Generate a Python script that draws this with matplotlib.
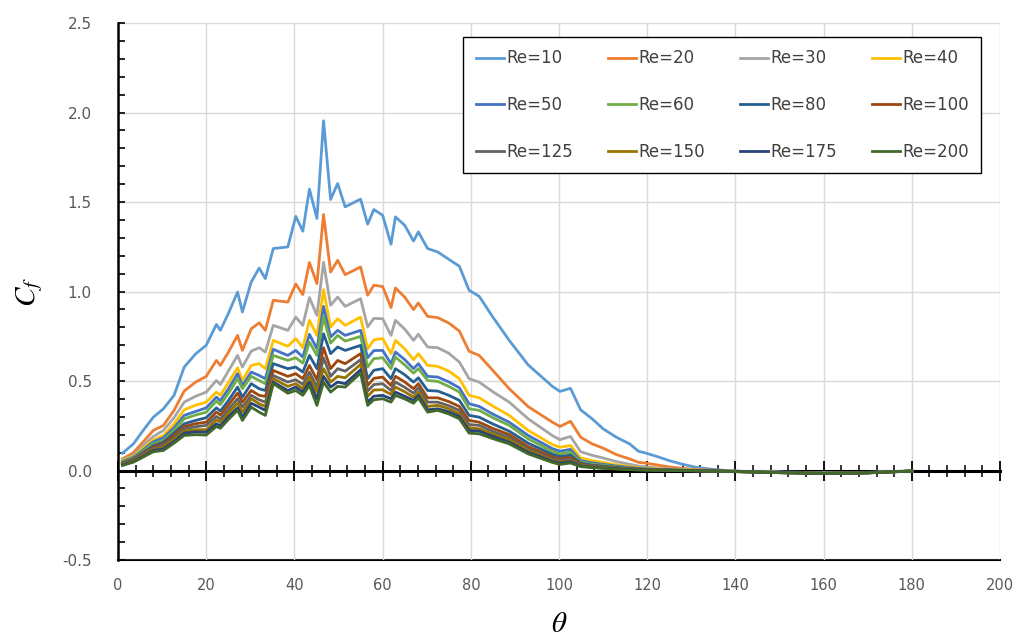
import matplotlib
matplotlib.use("Agg")
import matplotlib.pyplot as plt
from matplotlib.ticker import MultipleLocator, FormatStrFormatter, NullFormatter

plt.rcParams["font.family"] = ["DejaVu Sans"]
plt.rcParams["mathtext.fontset"] = "stix"

# angulo (grados)
theta = [1, 3.5, 5.7, 8, 10.3, 12.7, 15, 17.6, 20, 22.3, 23.2, 25, 27.1, 28.2, 30.2, 32,
         33.4, 35.2, 38.5, 40.3, 41.9, 43.4, 45.1, 46.6, 48.2, 49.8, 51.5, 55, 56.6, 58,
         60, 61.9, 62.9, 65, 67, 68.1, 70.2, 72.5, 75, 77.4, 79.6, 81.9, 85, 88.7, 93,
         98.5, 100.2, 102.6, 104.9, 107.5, 110, 113, 116, 118, 120, 122, 125, 128, 131,
         135, 140, 150, 160, 170, 180]

cf_re10 = [0.097, 0.149, 0.224, 0.298, 0.345, 0.42, 0.578, 0.652, 0.70, 0.816, 0.783, 0.876,
           0.997, 0.886, 1.053, 1.131, 1.072, 1.24, 1.249, 1.42, 1.337, 1.572, 1.408, 1.954,
           1.514, 1.603, 1.473, 1.516, 1.376, 1.458, 1.426, 1.264, 1.417, 1.37, 1.282, 1.333,
           1.24, 1.221, 1.18, 1.141, 1.007, 0.973, 0.857, 0.727, 0.59, 0.47, 0.442, 0.459,
           0.339, 0.289, 0.233, 0.186, 0.149, 0.108, 0.095, 0.08, 0.055, 0.035, 0.018, 0.006,
           -0.004, -0.008, -0.012, -0.01, -0.002]
cf_re20 = [0.065, 0.1, 0.16, 0.224, 0.252, 0.336, 0.444, 0.494, 0.526, 0.615, 0.587, 0.66,
           0.755, 0.671, 0.792, 0.825, 0.783, 0.951, 0.941, 1.042, 0.983, 1.162, 1.044, 1.43,
           1.109, 1.174, 1.094, 1.137, 0.979, 1.035, 1.028, 0.91, 1.02, 0.969, 0.899, 0.936,
           0.861, 0.854, 0.824, 0.779, 0.666, 0.643, 0.559, 0.457, 0.357, 0.27, 0.246, 0.275,
           0.186, 0.149, 0.125, 0.089, 0.065, 0.046, 0.04, 0.032, 0.02, 0.012, 0.006, 0.001,
           -0.004, -0.01, -0.014, -0.012, -0.003]
cf_re30 = [0.06, 0.085, 0.14, 0.19, 0.224, 0.295, 0.382, 0.415, 0.438, 0.503, 0.48, 0.555,
           0.643, 0.578, 0.667, 0.686, 0.662, 0.811, 0.783, 0.857, 0.811, 0.966, 0.867, 1.163,
           0.923, 0.969, 0.917, 0.96, 0.802, 0.85, 0.848, 0.755, 0.839, 0.79, 0.727, 0.761,
           0.69, 0.686, 0.655, 0.606, 0.513, 0.494, 0.44, 0.382, 0.289, 0.195, 0.172, 0.19,
           0.105, 0.085, 0.07, 0.05, 0.035, 0.025, 0.02, 0.015, 0.01, 0.006, 0.003, 0.0,
           -0.004, -0.01, -0.014, -0.012, -0.003]
cf_re40 = [0.055, 0.08, 0.125, 0.17, 0.196, 0.261, 0.339, 0.365, 0.382, 0.438, 0.42, 0.49,
           0.574, 0.503, 0.587, 0.597, 0.569, 0.727, 0.694, 0.737, 0.686, 0.839, 0.755, 1.01,
           0.802, 0.848, 0.811, 0.857, 0.68, 0.73, 0.737, 0.653, 0.727, 0.68, 0.619, 0.653,
           0.587, 0.582, 0.555, 0.513, 0.42, 0.406, 0.36, 0.308, 0.224, 0.145, 0.13, 0.14,
           0.07, 0.055, 0.045, 0.032, 0.022, 0.016, 0.012, 0.01, 0.006, 0.004, 0.002, 0.0,
           -0.004, -0.01, -0.014, -0.012, -0.003]
cf_re50 = [0.05, 0.075, 0.115, 0.16, 0.183, 0.239, 0.308, 0.33, 0.35, 0.41, 0.39, 0.455,
           0.541, 0.475, 0.55, 0.531, 0.513, 0.677, 0.643, 0.671, 0.634, 0.761, 0.68, 0.917,
           0.746, 0.783, 0.755, 0.783, 0.63, 0.67, 0.671, 0.597, 0.662, 0.62, 0.569, 0.597,
           0.526, 0.522, 0.495, 0.462, 0.373, 0.358, 0.315, 0.27, 0.196, 0.122, 0.108, 0.118,
           0.055, 0.043, 0.035, 0.025, 0.017, 0.012, 0.009, 0.007, 0.004, 0.002, 0.001, -0.001,
           -0.004, -0.01, -0.014, -0.012, -0.003]
cf_re60 = [0.047, 0.07, 0.108, 0.15, 0.168, 0.224, 0.289, 0.31, 0.326, 0.388, 0.368, 0.43,
           0.513, 0.457, 0.526, 0.503, 0.485, 0.643, 0.615, 0.63, 0.6, 0.718, 0.643, 0.857,
           0.712, 0.755, 0.723, 0.749, 0.578, 0.625, 0.63, 0.569, 0.634, 0.59, 0.544, 0.569,
           0.503, 0.498, 0.47, 0.438, 0.345, 0.336, 0.295, 0.252, 0.177, 0.106, 0.093, 0.102,
           0.047, 0.036, 0.029, 0.02, 0.014, 0.01, 0.008, 0.006, 0.003, 0.002, 0.0, -0.002,
           -0.005, -0.011, -0.015, -0.012, -0.003]
cf_re80 = [0.043, 0.065, 0.1, 0.138, 0.158, 0.209, 0.261, 0.28, 0.295, 0.35, 0.332, 0.39,
           0.466, 0.41, 0.485, 0.457, 0.447, 0.597, 0.569, 0.578, 0.55, 0.643, 0.569, 0.764,
           0.653, 0.69, 0.671, 0.699, 0.513, 0.56, 0.569, 0.513, 0.569, 0.535, 0.494, 0.518,
           0.447, 0.444, 0.42, 0.392, 0.308, 0.298, 0.26, 0.22, 0.153, 0.09, 0.078, 0.086,
           0.04, 0.03, 0.024, 0.017, 0.012, 0.009, 0.007, 0.005, 0.003, 0.001, 0.0, -0.002,
           -0.005, -0.011, -0.015, -0.012, -0.003]
cf_re100 = [0.04, 0.06, 0.095, 0.13, 0.149, 0.196, 0.246, 0.262, 0.27, 0.326, 0.31, 0.365,
            0.432, 0.382, 0.447, 0.42, 0.414, 0.559, 0.526, 0.541, 0.513, 0.587, 0.507, 0.686,
            0.569, 0.615, 0.597, 0.653, 0.475, 0.515, 0.522, 0.475, 0.526, 0.495, 0.457, 0.485,
            0.406, 0.406, 0.385, 0.358, 0.28, 0.27, 0.235, 0.201, 0.134, 0.076, 0.065, 0.073,
            0.034, 0.026, 0.02, 0.014, 0.01, 0.007, 0.006, 0.004, 0.002, 0.001, -0.001, -0.002,
            -0.006, -0.012, -0.016, -0.013, -0.003]
cf_re125 = [0.037, 0.057, 0.09, 0.123, 0.14, 0.183, 0.233, 0.245, 0.252, 0.302, 0.288, 0.34,
            0.401, 0.354, 0.42, 0.395, 0.382, 0.531, 0.494, 0.507, 0.481, 0.55, 0.466, 0.63,
            0.526, 0.569, 0.555, 0.619, 0.444, 0.48, 0.485, 0.447, 0.494, 0.465, 0.432, 0.462,
            0.382, 0.382, 0.362, 0.336, 0.257, 0.252, 0.218, 0.186, 0.121, 0.066, 0.056, 0.063,
            0.03, 0.023, 0.018, 0.012, 0.008, 0.006, 0.005, 0.004, 0.002, 0.0, -0.001, -0.003,
            -0.006, -0.012, -0.016, -0.013, -0.003]
cf_re150 = [0.035, 0.054, 0.085, 0.117, 0.13, 0.172, 0.22, 0.228, 0.228, 0.283, 0.27, 0.32,
            0.376, 0.326, 0.401, 0.373, 0.358, 0.513, 0.47, 0.485, 0.457, 0.522, 0.438, 0.569,
            0.494, 0.526, 0.518, 0.593, 0.414, 0.45, 0.451, 0.425, 0.466, 0.44, 0.41, 0.438,
            0.358, 0.364, 0.345, 0.317, 0.239, 0.233, 0.203, 0.172, 0.112, 0.057, 0.046, 0.055,
            0.027, 0.02, 0.016, 0.011, 0.007, 0.005, 0.004, 0.003, 0.001, 0.0, -0.001, -0.003,
            -0.006, -0.012, -0.016, -0.013, -0.003]
cf_re175 = [0.032, 0.05, 0.08, 0.112, 0.121, 0.162, 0.209, 0.215, 0.214, 0.261, 0.25, 0.3,
            0.35, 0.298, 0.376, 0.354, 0.336, 0.494, 0.447, 0.466, 0.438, 0.494, 0.401, 0.526,
            0.466, 0.494, 0.485, 0.563, 0.382, 0.415, 0.42, 0.401, 0.438, 0.415, 0.392, 0.42,
            0.339, 0.345, 0.328, 0.302, 0.224, 0.22, 0.19, 0.158, 0.102, 0.051, 0.041, 0.049,
            0.025, 0.018, 0.014, 0.01, 0.006, 0.004, 0.003, 0.002, 0.001, -0.001, -0.002, -0.003,
            -0.006, -0.012, -0.016, -0.013, -0.003]
cf_re200 = [0.028, 0.047, 0.075, 0.105, 0.112, 0.153, 0.196, 0.2, 0.198, 0.246, 0.236, 0.285,
            0.336, 0.28, 0.354, 0.326, 0.308, 0.485, 0.432, 0.447, 0.42, 0.475, 0.364, 0.494,
            0.438, 0.47, 0.466, 0.544, 0.364, 0.395, 0.401, 0.382, 0.42, 0.4, 0.376, 0.406,
            0.326, 0.336, 0.316, 0.289, 0.209, 0.205, 0.178, 0.149, 0.093, 0.045, 0.034, 0.042,
            0.022, 0.016, 0.012, 0.008, 0.005, 0.003, 0.002, 0.001, 0.0, -0.001, -0.002, -0.003,
            -0.006, -0.012, -0.016, -0.013, -0.003]

etiquetas = ["Re=10", "Re=20", "Re=30", "Re=40", "Re=50", "Re=60",
             "Re=80", "Re=100", "Re=125", "Re=150", "Re=175", "Re=200"]
series = [cf_re10, cf_re20, cf_re30, cf_re40, cf_re50, cf_re60,
          cf_re80, cf_re100, cf_re125, cf_re150, cf_re175, cf_re200]
colores = ["#5B9BD5", "#ED7D31", "#A5A5A5", "#FFC000", "#4472C4", "#70AD47",
           "#255E91", "#9E480E", "#636363", "#997300", "#264478", "#43682B"]
xticks = list(range(0, 201, 20))

fig = plt.figure(figsize=(10.22, 6.39), dpi=100)
ax = fig.add_axes([0.1155, 0.1236, 0.8630, 0.8404])

lineas = []
for cf, lab, col in zip(series, etiquetas, colores):
    l, = ax.plot(theta, cf, color=col, lw=2.0, label=lab, zorder=3)
    lineas.append(l)

ymin, ymax = -0.5, 2.5
ax.set_xlim(0, 200)
ax.set_ylim(ymin, ymax)

# rejilla
ax.set_axisbelow(True)
ax.set_xticks(xticks)
ax.xaxis.set_minor_locator(MultipleLocator(4))
ax.xaxis.set_major_formatter(NullFormatter())
ax.yaxis.set_major_locator(MultipleLocator(0.5))
ax.yaxis.set_minor_locator(MultipleLocator(0.1))
ax.yaxis.set_major_formatter(FormatStrFormatter("%.1f"))
ax.grid(True, which="major", color="#D9D9D9", lw=1.0)

# eje horizontal en Cf = 0 con marcas que lo cruzan
for s in ["top", "right"]:
    ax.spines[s].set_visible(False)
ax.spines["bottom"].set_position(("data", 0))
ax.spines["bottom"].set_linewidth(2.2)
ax.spines["bottom"].set_color("black")
ax.spines["left"].set_linewidth(1.8)
ax.spines["left"].set_color("black")
ax.tick_params(axis="x", which="major", direction="inout", length=14, width=1.3)
ax.tick_params(axis="x", which="minor", direction="inout", length=8, width=1.1)
ax.tick_params(axis="y", which="both", direction="in", length=5, width=1.2,
               pad=19, labelsize=11, labelcolor="#595959")

# etiquetas del eje x en el borde inferior
abajo = ax.secondary_xaxis("bottom")
abajo.set_xticks(xticks)
abajo.spines["bottom"].set_linewidth(1.5)
abajo.spines["bottom"].set_color("black")
abajo.tick_params(length=0, pad=13, labelsize=10.5, labelcolor="#595959")
abajo.set_xlabel(r"$\theta$", fontsize=21, labelpad=12)

ax.set_ylabel(r"$C_f$", fontsize=21, labelpad=12)

# leyenda por filas (matplotlib llena por columnas)
orden = [r * 4 + c for c in range(4) for r in range(3)]
leg = ax.legend([lineas[i] for i in orden], [etiquetas[i] for i in orden],
                ncol=4, loc="upper right", bbox_to_anchor=(0.9785, 0.974),
                borderaxespad=0, frameon=True, fancybox=False, framealpha=1,
                edgecolor="black", fontsize=12, handlelength=1.7, handletextpad=0.12,
                labelspacing=1.72, columnspacing=2.1, borderpad=0.75,
                labelcolor="#404040")
leg.get_frame().set_linewidth(1.0)

fig.savefig("out.png", dpi=100)
